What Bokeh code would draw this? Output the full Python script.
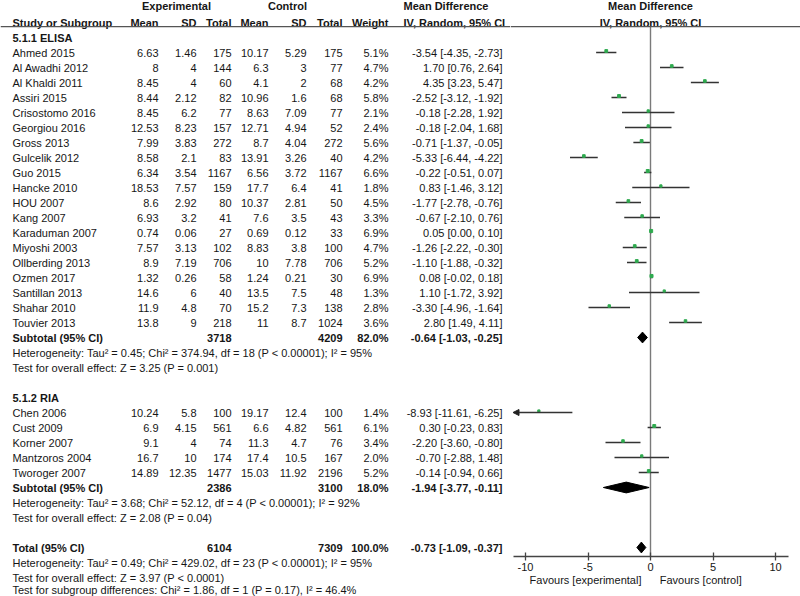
from bokeh.plotting import figure
from bokeh.layouts import row
from bokeh.models import ColumnDataSource, Range1d, Span, FixedTicker, Arrow, NormalHead
from bokeh.core.properties import value
from bokeh.embed import file_html
from bokeh.resources import INLINE

# ---------------- data ----------------
elisa_study = ["Ahmed 2015", "Al Awadhi 2012", "Al Khaldi 2011", "Assiri 2015", "Crisostomo 2016",
               "Georgiou 2016", "Gross 2013", "Gulcelik 2012", "Guo 2015", "Hancke 2010", "HOU 2007",
               "Kang 2007", "Karaduman 2007", "Miyoshi 2003", "Ollberding 2013", "Ozmen 2017",
               "Santillan 2013", "Shahar 2010", "Touvier 2013"]
elisa_exp_mean = [6.63, 8, 8.45, 8.44, 8.45, 12.53, 7.99, 8.58, 6.34, 18.53, 8.6, 6.93, 0.74, 7.57, 8.9, 1.32, 14.6, 11.9, 13.8]
elisa_exp_sd = [1.46, 4, 4, 2.12, 6.2, 8.23, 3.83, 2.1, 3.54, 7.57, 2.92, 3.2, 0.06, 3.13, 7.19, 0.26, 6, 4.8, 9]
elisa_exp_n = [175, 144, 60, 82, 77, 157, 272, 83, 1167, 159, 80, 41, 27, 102, 706, 58, 40, 70, 218]
elisa_ctl_mean = [10.17, 6.3, 4.1, 10.96, 8.63, 12.71, 8.7, 13.91, 6.56, 17.7, 10.37, 7.6, 0.69, 8.83, 10, 1.24, 13.5, 15.2, 11]
elisa_ctl_sd = [5.29, 3, 2, 1.6, 7.09, 4.94, 4.04, 3.26, 3.72, 6.4, 2.81, 3.5, 0.12, 3.8, 7.78, 0.21, 7.5, 7.3, 8.7]
elisa_ctl_n = [175, 77, 68, 68, 77, 52, 272, 40, 1167, 41, 50, 43, 33, 100, 706, 30, 48, 138, 1024]
elisa_weight = [5.1, 4.7, 4.2, 5.8, 2.1, 2.4, 5.6, 4.2, 6.6, 1.8, 4.5, 3.3, 6.9, 4.7, 5.2, 6.9, 1.3, 2.8, 3.6]
elisa_md = [-3.54, 1.70, 4.35, -2.52, -0.18, -0.18, -0.71, -5.33, -0.22, 0.83, -1.77, -0.67, 0.05, -1.26, -1.10, 0.08, 1.10, -3.30, 2.80]
elisa_lo = [-4.35, 0.76, 3.23, -3.12, -2.28, -2.04, -1.37, -6.44, -0.51, -1.46, -2.78, -2.10, 0.00, -2.22, -1.88, -0.02, -1.72, -4.96, 1.49]
elisa_hi = [-2.73, 2.64, 5.47, -1.92, 1.92, 1.68, -0.05, -4.22, 0.07, 3.12, -0.76, 0.76, 0.10, -0.30, -0.32, 0.18, 3.92, -1.64, 4.11]

ria_study = ["Chen 2006", "Cust 2009", "Korner 2007", "Mantzoros 2004", "Tworoger 2007"]
ria_exp_mean = [10.24, 6.9, 9.1, 16.7, 14.89]
ria_exp_sd = [5.8, 4.15, 4, 10, 12.35]
ria_exp_n = [100, 561, 74, 174, 1477]
ria_ctl_mean = [19.17, 6.6, 11.3, 17.4, 15.03]
ria_ctl_sd = [12.4, 4.82, 4.7, 10.5, 11.92]
ria_ctl_n = [100, 561, 76, 167, 2196]
ria_weight = [1.4, 6.1, 3.4, 2.0, 5.2]
ria_md = [-8.93, 0.30, -2.20, -0.70, -0.14]
ria_lo = [-11.61, -0.23, -3.60, -2.88, -0.94]
ria_hi = [-6.25, 0.83, -0.80, 1.48, 0.66]

summary_label = ["Subtotal (95% CI)", "Subtotal (95% CI)", "Total (95% CI)"]
summary_exp_n = [3718, 2386, 6104]
summary_ctl_n = [4209, 3100, 7309]
summary_weight = [82.0, 18.0, 100.0]
summary_md = [-0.64, -1.94, -0.73]
summary_lo = [-1.03, -3.77, -1.09]
summary_hi = [-0.25, -0.11, -0.37]

group_labels = ["5.1.1 ELISA", "5.1.2 RIA"]
elisa_notes = ["Heterogeneity: Tau\u00b2 = 0.45; Chi\u00b2 = 374.94, df = 18 (P < 0.00001); I\u00b2 = 95%",
               "Test for overall effect: Z = 3.25 (P = 0.001)"]
ria_notes = ["Heterogeneity: Tau\u00b2 = 3.68; Chi\u00b2 = 52.12, df = 4 (P < 0.00001); I\u00b2 = 92%",
             "Test for overall effect: Z = 2.08 (P = 0.04)"]
total_notes = ["Heterogeneity: Tau\u00b2 = 0.49; Chi\u00b2 = 429.02, df = 23 (P < 0.00001); I\u00b2 = 95%",
               "Test for overall effect: Z = 3.97 (P < 0.0001)",
               "Test for subgroup differences: Chi\u00b2 = 1.86, df = 1 (P = 0.17), I\u00b2 = 46.4%"]

axis_ticks = [-10, -5, 0, 5, 10]
axis_limit = 11

# ---------------- layout of rows ----------------
FONT = value("Liberation Sans")
TXT = "#161616"
FS = "11px"

ROW_HDR1, ROW_HDR2, ROW_LINE = -2.07, -1.0, -0.73
elisa_rows = list(range(1, 1 + len(elisa_study)))
ria_start = elisa_rows[-1] + 6
ria_rows = list(range(ria_start, ria_start + len(ria_study)))
group_rows = [0, ria_start - 1]
summary_rows = [elisa_rows[-1] + 1, ria_rows[-1] + 1, ria_rows[-1] + 5]
elisa_note_rows = [summary_rows[0] + 1, summary_rows[0] + 2]
ria_note_rows = [summary_rows[1] + 1, summary_rows[1] + 2]
# last line nudged up slightly so it stays inside the page
total_note_rows = [summary_rows[2] + 1, summary_rows[2] + 2, summary_rows[2] + 2.82]

# column anchor positions (table figure x in px)
X_NAME, X_EM, X_ESD, X_EN, X_CM, X_CSD, X_CN, X_W, X_CI = 12, 158, 196, 231, 268, 306, 342, 388, 502
X_CIH = 403

def fmt(v):
    return str(v)

def ci(m, l, h):
    return f"{m:.2f} [{l:.2f}, {h:.2f}]"

texts = {"x": [], "y": [], "t": [], "align": [], "style": []}

def add(x, y, t, align="right", bold=False):
    texts["x"].append(x); texts["y"].append(y); texts["t"].append(t)
    texts["align"].append(align); texts["style"].append("bold" if bold else "normal")

# headers
add(176, ROW_HDR1, "Experimental", "center", True)
add(287, ROW_HDR1, "Control", "center", True)
add(X_CIH, ROW_HDR1, "Mean Difference", "left", True)
add(X_NAME, ROW_HDR2, "Study or Subgroup", "left", True)
for x, t in [(X_EM, "Mean"), (X_ESD, "SD"), (X_EN, "Total"), (X_CM, "Mean"), (X_CSD, "SD"), (X_CN, "Total"), (X_W, "Weight")]:
    add(x, ROW_HDR2, t, "right", True)
add(X_CIH, ROW_HDR2, "IV, Random, 95% CI", "left", True)

for y, g in zip(group_rows, group_labels):
    add(X_NAME, y, g, "left", True)

def add_studies(rows, names, em, esd, en, cm, csd, cn, w, md, lo, hi):
    for i, y in enumerate(rows):
        add(X_NAME, y, names[i], "left")
        add(X_EM, y, fmt(em[i])); add(X_ESD, y, fmt(esd[i])); add(X_EN, y, fmt(en[i]))
        add(X_CM, y, fmt(cm[i])); add(X_CSD, y, fmt(csd[i])); add(X_CN, y, fmt(cn[i]))
        add(X_W, y, f"{w[i]:.1f}%")
        add(X_CI, y, ci(md[i], lo[i], hi[i]))

add_studies(elisa_rows, elisa_study, elisa_exp_mean, elisa_exp_sd, elisa_exp_n, elisa_ctl_mean,
            elisa_ctl_sd, elisa_ctl_n, elisa_weight, elisa_md, elisa_lo, elisa_hi)
add_studies(ria_rows, ria_study, ria_exp_mean, ria_exp_sd, ria_exp_n, ria_ctl_mean,
            ria_ctl_sd, ria_ctl_n, ria_weight, ria_md, ria_lo, ria_hi)

for i, y in enumerate(summary_rows):
    add(X_NAME, y, summary_label[i], "left", True)
    add(X_EN, y, fmt(summary_exp_n[i]), "right", True)
    add(X_CN, y, fmt(summary_ctl_n[i]), "right", True)
    add(X_W, y, f"{summary_weight[i]:.1f}%", "right", True)
    add(X_CI, y, ci(summary_md[i], summary_lo[i], summary_hi[i]), "right", True)

for rows, notes in [(elisa_note_rows, elisa_notes), (ria_note_rows, ria_notes), (total_note_rows, total_notes)]:
    for y, t in zip(rows, notes):
        add(X_NAME, y, t, "left")

# ---------------- vertical mapping ----------------
PX_PER_ROW = 15.0
ROW0_PX = 37.0
H = 596
BOTTOM_BORDER = 40
Y_TOP = -ROW0_PX / PX_PER_ROW
y_bottom_table = Y_TOP + H / PX_PER_ROW
y_bottom_forest = Y_TOP + (H - BOTTOM_BORDER) / PX_PER_ROW

W_TABLE, W_FOREST = 510, 290
MD_PX = 12.5       # pixels per unit of mean difference
ZERO_PX = 650      # page x of zero

# ---------------- table figure ----------------
pt = figure(width=W_TABLE, height=H, x_range=Range1d(0, W_TABLE),
            y_range=Range1d(y_bottom_table, Y_TOP), output_backend="svg", toolbar_location=None,
            x_axis_location=None, y_axis_location=None, min_border=0)
pt.frame_align = False
pt.outline_line_color = None
pt.grid.visible = False
pt.background_fill_color = "white"
pt.border_fill_color = "white"

src = ColumnDataSource(texts)
pt.text(x="x", y="y", text="t", text_align="align", text_font_style="style", source=src,
        text_baseline="middle", text_font=FONT, text_font_size=FS, text_color=TXT)
pt.add_layout(Span(location=ROW_LINE, dimension="width", line_color="#555555", line_width=1.3))

# ---------------- forest figure ----------------
pf = figure(width=W_FOREST, height=H,
            x_range=Range1d((W_TABLE - ZERO_PX) / MD_PX, (W_TABLE + W_FOREST - ZERO_PX) / MD_PX),
            y_range=Range1d(y_bottom_forest, Y_TOP), output_backend="svg", toolbar_location=None,
            y_axis_location=None, min_border_left=0, min_border_right=0, min_border_top=0,
            min_border_bottom=BOTTOM_BORDER)
pf.frame_align = False
pf.outline_line_color = None
pf.grid.visible = False
pf.background_fill_color = "white"
pf.border_fill_color = "white"

pf.add_layout(Span(location=ROW_LINE, dimension="width", line_color="#555555", line_width=1.3))
pf.segment(x0=[0], y0=[ROW_LINE], x1=[0], y1=[y_bottom_forest], line_color="#7a7a7a", line_width=1.4)

pf.text(x=[0, 0], y=[ROW_HDR1, ROW_HDR2], text=["Mean Difference", "IV, Random, 95% CI"],
        text_align="center", text_baseline="middle", text_font=FONT, text_font_size=FS,
        text_font_style="bold", text_color=TXT)

all_rows = elisa_rows + ria_rows
all_md = elisa_md + ria_md
all_lo = elisa_lo + ria_lo
all_hi = elisa_hi + ria_hi
all_w = elisa_weight + ria_weight

seg_x0, seg_x1, seg_y = [], [], []
arr_x0, arr_x1, arr_y = [], [], []
for y, l, h in zip(all_rows, all_lo, all_hi):
    if l < -axis_limit:
        arr_x0.append(h); arr_x1.append(-axis_limit); arr_y.append(y)
    else:
        seg_x0.append(l); seg_x1.append(min(h, axis_limit)); seg_y.append(y)

pf.segment(x0=seg_x0, y0=seg_y, x1=seg_x1, y1=seg_y, line_color="#333333", line_width=1.3)
pf.add_layout(Arrow(end=NormalHead(size=6, fill_color="#222222", line_color="#222222"),
                    x_start="x0", y_start="y", x_end="x1", y_end="y",
                    source=ColumnDataSource(dict(x0=arr_x0, x1=arr_x1, y=arr_y)),
                    line_color="#333333", line_width=1.3))
pf.scatter(x=all_md, y=[r - 0.1 for r in all_rows], size=[2.0 + 0.15 * w for w in all_w],
           marker="square", fill_color="#2faa4f", line_color="#2faa4f")

DH = 0.36
xs = [[l, m, h, m] for l, m, h in zip(summary_lo, summary_md, summary_hi)]
ys = [[y, y - DH, y, y + DH] for y in summary_rows]
pf.patches(xs=xs, ys=ys, fill_color="black", line_color="black", line_width=1)

ax = pf.xaxis[0]
ax.ticker = FixedTicker(ticks=axis_ticks, minor_ticks=[])
ax.major_label_overrides = {t: str(t) for t in axis_ticks}
ax.bounds = (-axis_limit, axis_limit)
ax.axis_line_color = "#444444"
ax.axis_line_width = 1.3
ax.major_tick_line_color = "#444444"
ax.major_tick_line_width = 1.3
ax.major_tick_in = 4
ax.major_tick_out = 4
ax.minor_tick_line_color = None
ax.major_label_standoff = 2
ax.major_label_text_font = "Liberation Sans"
ax.major_label_text_font_size = FS
ax.major_label_text_color = TXT
NB = "\u00a0"
ax.axis_label = "Favours [experimental]" + NB * 6 + "Favours [control]" + NB * 13
ax.axis_label_standoff = 0
ax.axis_label_text_font = "Liberation Sans"
ax.axis_label_text_font_size = FS
ax.axis_label_text_font_style = "normal"
ax.axis_label_text_color = TXT

layout = row(pt, pf, spacing=0)
open("out.html", "w").write(file_html(layout, INLINE))
